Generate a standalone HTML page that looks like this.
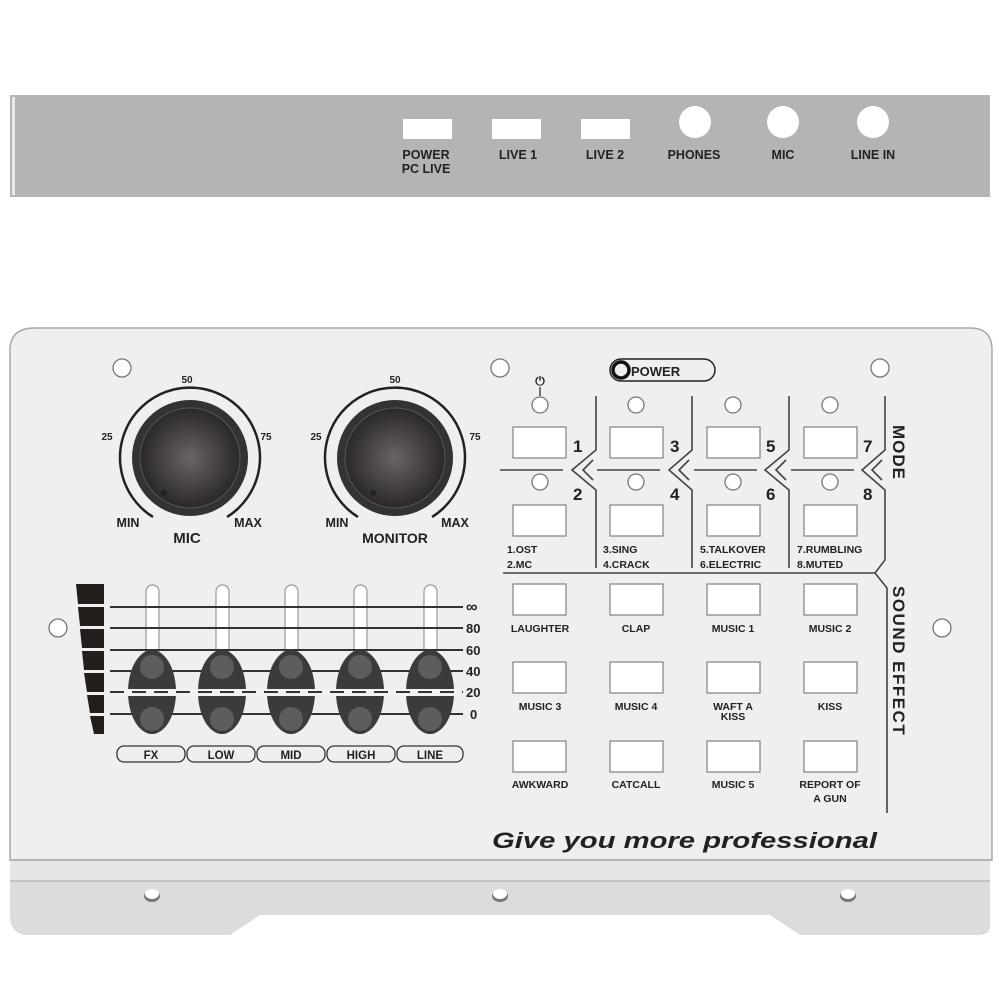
<!DOCTYPE html>
<html><head><meta charset="utf-8"><style>
html,body{margin:0;padding:0;background:#fff;}
svg{display:block;}
text{font-family:"Liberation Sans",sans-serif;font-weight:bold;fill:#222;}
</style></head><body>
<svg width="999" height="999" viewBox="0 0 999 999" xmlns="http://www.w3.org/2000/svg">
<defs>
<radialGradient id="kg" cx="50%" cy="50%" r="50%">
<stop offset="0" stop-color="#6a6464"/><stop offset="0.7" stop-color="#3e3a3a"/><stop offset="1" stop-color="#2b2828"/>
</radialGradient>
</defs>
<!-- top bar -->
<rect x="10" y="95" width="980" height="102" fill="#b4b4b4"/>
<rect x="12" y="97" width="3" height="98" fill="#e8e8e8"/>
<rect x="403" y="119" width="49" height="20" fill="#fff"/>
<rect x="492" y="119" width="49" height="20" fill="#fff"/>
<rect x="581" y="119" width="49" height="20" fill="#fff"/>
<circle cx="695" cy="122" r="16" fill="#fff"/>
<circle cx="783" cy="122" r="16" fill="#fff"/>
<circle cx="873" cy="122" r="16" fill="#fff"/>
<g font-size="12.5" text-anchor="middle">
<text x="426" y="159">POWER</text><text x="426" y="173">PC LIVE</text>
<text x="518" y="159">LIVE 1</text><text x="605" y="159">LIVE 2</text>
<text x="694" y="159">PHONES</text><text x="783" y="159">MIC</text><text x="873" y="159">LINE IN</text>
</g>
<!-- flange -->
<path d="M10,860 L990,860 L990,925 Q990,935 978,935 L800,935 L770,915 L260,915 L230,935 L28,935 Q10,935 10,915 Z" fill="#dcdcdc"/>
<rect x="10" y="860" width="980" height="21" fill="#e6e6e6"/>
<line x1="10" y1="881" x2="990" y2="881" stroke="#b8b8b8" stroke-width="1.5"/>
<ellipse cx="152" cy="896" rx="8" ry="6" fill="#777"/><ellipse cx="152" cy="894" rx="7" ry="5" fill="#fff"/>
<ellipse cx="500" cy="896" rx="8" ry="6" fill="#777"/><ellipse cx="500" cy="894" rx="7" ry="5" fill="#fff"/>
<ellipse cx="848" cy="896" rx="8" ry="6" fill="#777"/><ellipse cx="848" cy="894" rx="7" ry="5" fill="#fff"/>
<!-- panel -->
<path d="M10,860 L10,350 Q10,328 35,328 L970,328 Q992,328 992,350 L992,860 Z" fill="#efefef" stroke="#a8a8a8" stroke-width="1.5"/>
<line x1="10" y1="860" x2="992" y2="860" stroke="#b0b0b0" stroke-width="1.5"/>
<g fill="#fff" stroke="#777" stroke-width="1.3">
<circle cx="122" cy="368" r="9"/><circle cx="500" cy="368" r="9"/><circle cx="880" cy="368" r="9"/>
<circle cx="58" cy="628" r="9"/><circle cx="942" cy="628" r="9"/>
</g>
<!-- knobs -->
<g>
<path d="M153,517 A70,70 0 1 1 227,517" fill="none" stroke="#222" stroke-width="2.5"/>
<circle cx="190" cy="458" r="58" fill="#333"/><circle cx="190" cy="458" r="50" fill="url(#kg)" stroke="#555"/>
<circle cx="164" cy="493" r="3" fill="#222"/>
<path d="M358,517 A70,70 0 1 1 432,517" fill="none" stroke="#222" stroke-width="2.5"/>
<circle cx="395" cy="458" r="58" fill="#333"/><circle cx="395" cy="458" r="50" fill="url(#kg)" stroke="#555"/>
<circle cx="373" cy="493" r="3" fill="#222"/>
</g>
<g font-size="10" text-anchor="middle">
<text x="187" y="383">50</text><text x="107" y="440">25</text><text x="266" y="440">75</text>
<text x="395" y="383">50</text><text x="316" y="440">25</text><text x="475" y="440">75</text>
</g>
<g font-size="12.5" text-anchor="middle">
<text x="128" y="527">MIN</text><text x="248" y="527">MAX</text>
<text x="337" y="527">MIN</text><text x="455" y="527">MAX</text>
</g>
<text x="187" y="543" font-size="15" text-anchor="middle">MIC</text>
<text x="395" y="543" font-size="14" text-anchor="middle">MONITOR</text>
<!-- level meter -->
<g fill="#231e1c">
<polygon points="76,584 104,584 104,604 78,604"/>
<polygon points="78,607 104,607 104,626 80,626"/>
<polygon points="80,629 104,629 104,648 82,648"/>
<polygon points="82,651 104,651 104,670 84,670"/>
<polygon points="84,673 104,673 104,692 87,692"/>
<polygon points="87,695 104,695 104,713 90,713"/>
<polygon points="90,716 104,716 104,734 94,734"/>
</g>
<!-- slider tracks -->
<g fill="#fff" stroke="#999" stroke-width="1.2">
<rect x="146" y="585" width="13" height="135" rx="6.5"/>
<rect x="216" y="585" width="13" height="135" rx="6.5"/>
<rect x="285" y="585" width="13" height="135" rx="6.5"/>
<rect x="354" y="585" width="13" height="135" rx="6.5"/>
<rect x="424" y="585" width="13" height="135" rx="6.5"/>
</g>
<g stroke="#333" stroke-width="2">
<line x1="110" y1="607" x2="463" y2="607"/>
<line x1="110" y1="628" x2="463" y2="628"/>
<line x1="110" y1="650" x2="463" y2="650"/>
<line x1="110" y1="671" x2="463" y2="671"/>
<line x1="110" y1="714" x2="463" y2="714"/>
</g>
<g fill="#3d3a3a">
<ellipse cx="152" cy="692" rx="24" ry="42"/><ellipse cx="222" cy="692" rx="24" ry="42"/>
<ellipse cx="291" cy="692" rx="24" ry="42"/><ellipse cx="360" cy="692" rx="24" ry="42"/>
<ellipse cx="430" cy="692" rx="24" ry="42"/>
</g>
<g fill="#5f5c5c">
<circle cx="152" cy="667" r="12"/><circle cx="152" cy="719" r="12"/>
<circle cx="222" cy="667" r="12"/><circle cx="222" cy="719" r="12"/>
<circle cx="291" cy="667" r="12"/><circle cx="291" cy="719" r="12"/>
<circle cx="360" cy="667" r="12"/><circle cx="360" cy="719" r="12"/>
<circle cx="430" cy="667" r="12"/><circle cx="430" cy="719" r="12"/>
</g>
<rect x="120" y="689" width="340" height="7" fill="#f2f2f2"/>
<line x1="110" y1="692" x2="463" y2="692" stroke="#333" stroke-width="2" stroke-dasharray="14,8"/>
<g font-size="13" >
<text x="466" y="612" font-size="16">∞</text><text x="466" y="633">80</text><text x="466" y="655">60</text>
<text x="466" y="676">40</text><text x="466" y="697">20</text><text x="470" y="719">0</text>
</g>
<g fill="none" stroke="#333" stroke-width="1.3">
<rect x="117" y="746" width="68" height="16" rx="7"/><rect x="187" y="746" width="68" height="16" rx="7"/>
<rect x="257" y="746" width="68" height="16" rx="7"/><rect x="327" y="746" width="68" height="16" rx="7"/>
<rect x="397" y="746" width="66" height="16" rx="7"/>
</g>
<g font-size="11.5" text-anchor="middle">
<text x="151" y="759">FX</text><text x="221" y="759">LOW</text><text x="291" y="759">MID</text>
<text x="361" y="759">HIGH</text><text x="430" y="759">LINE</text>
</g>
<!-- power -->
<rect x="610" y="359" width="105" height="22" rx="11" fill="none" stroke="#222" stroke-width="1.5"/>
<circle cx="621" cy="370" r="8" fill="none" stroke="#111" stroke-width="3.5"/>
<text x="631" y="376" font-size="13">POWER</text>
<text x="540" y="385" font-size="12" text-anchor="middle">⏻</text>
<line x1="540" y1="387" x2="540" y2="396" stroke="#333" stroke-width="1.3"/>
<!-- mode lines -->
<g fill="none" stroke="#444" stroke-width="1.6">
<line x1="500" y1="470" x2="563" y2="470"/><line x1="597" y1="470" x2="660" y2="470"/>
<line x1="694" y1="470" x2="757" y2="470"/><line x1="791" y1="470" x2="854" y2="470"/>
<path d="M596,396 L596,450 L572,470 L596,490 L596,568"/>
<path d="M692,396 L692,450 L669,470 L692,490 L692,568"/>
<path d="M789,396 L789,450 L765,470 L789,490 L789,568"/>
<path d="M885,396 L885,450 L862,470 L885,490 L885,560 L875,573 L503,573"/>
<path d="M875,573 L887,588 L887,813"/>
<path d="M593,460 L583,470 L593,480"/><path d="M689,460 L679,470 L689,480"/>
<path d="M786,460 L776,470 L786,480"/><path d="M882,460 L872,470 L882,480"/>
</g>
<!-- LEDs -->
<g fill="#fff" stroke="#777" stroke-width="1.3">
<circle cx="540" cy="405" r="8"/><circle cx="636" cy="405" r="8"/><circle cx="733" cy="405" r="8"/><circle cx="830" cy="405" r="8"/>
<circle cx="540" cy="482" r="8"/><circle cx="636" cy="482" r="8"/><circle cx="733" cy="482" r="8"/><circle cx="830" cy="482" r="8"/>
</g>
<!-- buttons -->
<g fill="#fff" stroke="#888" stroke-width="1.3">
<rect x="513" y="427" width="53" height="31"/><rect x="610" y="427" width="53" height="31"/><rect x="707" y="427" width="53" height="31"/><rect x="804" y="427" width="53" height="31"/>
<rect x="513" y="505" width="53" height="31"/><rect x="610" y="505" width="53" height="31"/><rect x="707" y="505" width="53" height="31"/><rect x="804" y="505" width="53" height="31"/>
<rect x="513" y="584" width="53" height="31"/><rect x="610" y="584" width="53" height="31"/><rect x="707" y="584" width="53" height="31"/><rect x="804" y="584" width="53" height="31"/>
<rect x="513" y="662" width="53" height="31"/><rect x="610" y="662" width="53" height="31"/><rect x="707" y="662" width="53" height="31"/><rect x="804" y="662" width="53" height="31"/>
<rect x="513" y="741" width="53" height="31"/><rect x="610" y="741" width="53" height="31"/><rect x="707" y="741" width="53" height="31"/><rect x="804" y="741" width="53" height="31"/>
</g>
<g font-size="17">
<text x="573" y="452">1</text><text x="670" y="452">3</text><text x="766" y="452">5</text><text x="863" y="452">7</text>
<text x="573" y="500">2</text><text x="670" y="500">4</text><text x="766" y="500">6</text><text x="863" y="500">8</text>
</g>
<g font-size="10.5">
<text x="507" y="553">1.OST</text><text x="507" y="568">2.MC</text>
<text x="603" y="553">3.SING</text><text x="603" y="568">4.CRACK</text>
<text x="700" y="553">5.TALKOVER</text><text x="700" y="568">6.ELECTRIC</text>
<text x="797" y="553">7.RUMBLING</text><text x="797" y="568">8.MUTED</text>
</g>
<g font-size="10.5" text-anchor="middle">
<text x="540" y="632">LAUGHTER</text><text x="636" y="632">CLAP</text><text x="733" y="632">MUSIC 1</text><text x="830" y="632">MUSIC 2</text>
<text x="540" y="710">MUSIC 3</text><text x="636" y="710">MUSIC 4</text><text x="733" y="710">WAFT A</text><text x="733" y="720">KISS</text><text x="830" y="710">KISS</text>
<text x="540" y="788">AWKWARD</text><text x="636" y="788">CATCALL</text><text x="733" y="788">MUSIC 5</text><text x="830" y="788">REPORT OF</text><text x="830" y="802">A GUN</text>
</g>
<text transform="translate(893,425) rotate(90)" font-size="17" letter-spacing="1">MODE</text>
<text transform="translate(893,586) rotate(90)" font-size="17" letter-spacing="1.5">SOUND EFFECT</text>
<text x="492" y="848" font-size="22" font-style="italic" textLength="385" lengthAdjust="spacingAndGlyphs">Give you more professional</text>
</svg>
</body></html>
